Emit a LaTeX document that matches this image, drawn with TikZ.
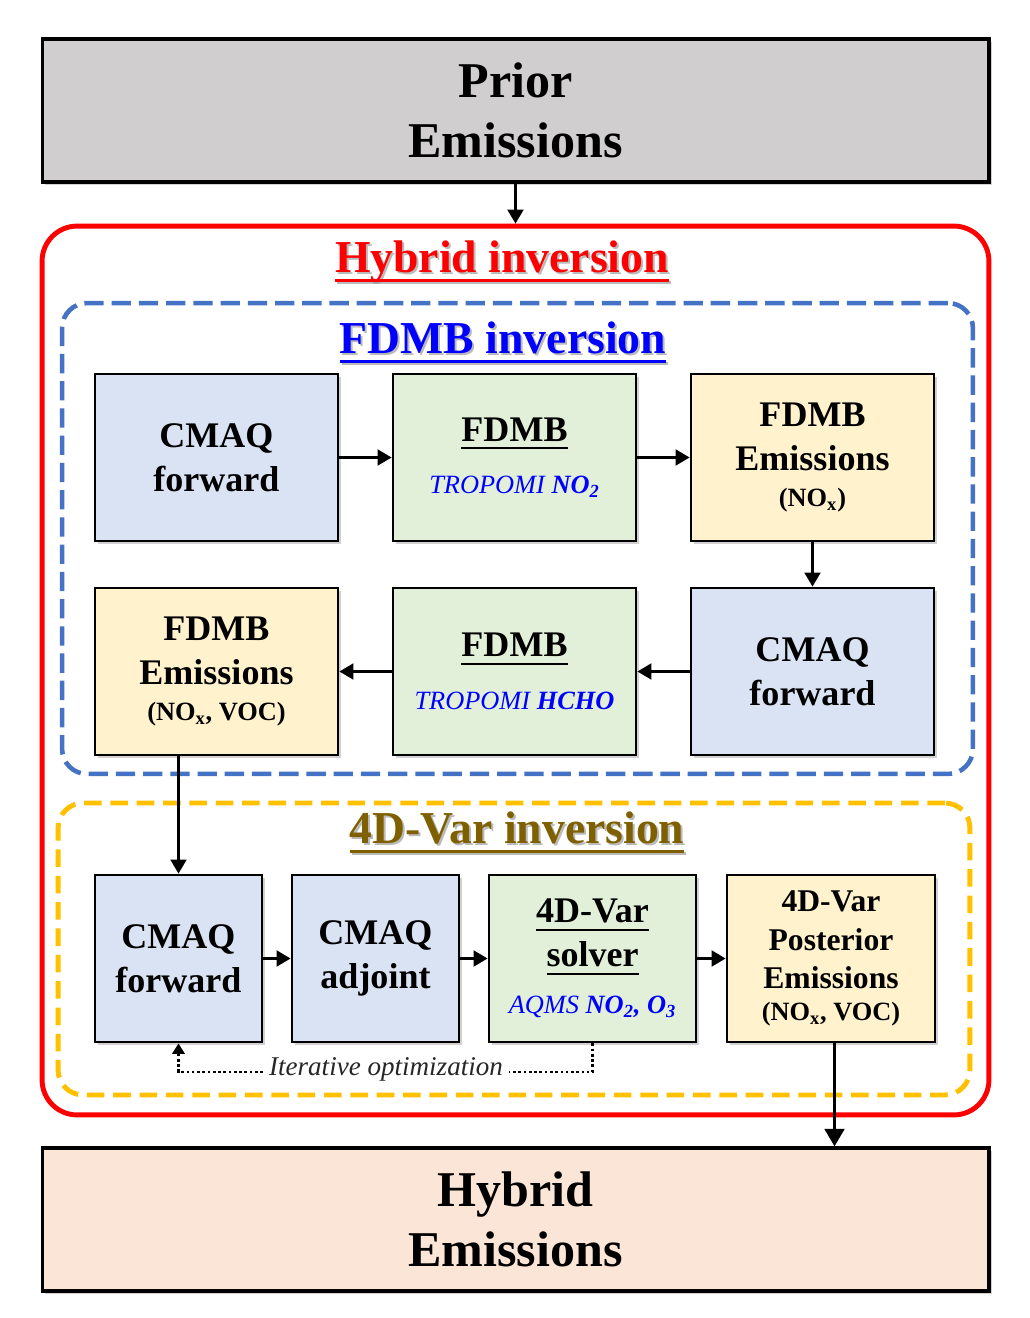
\documentclass[tikz,border=0pt]{standalone}
\usepackage{fontspec}
\setmainfont{Liberation Serif}
\usetikzlibrary{arrows.meta,shadows}
\definecolor{cgrey}{HTML}{D0CECE}
\definecolor{cpeach}{HTML}{FBE5D6}
\definecolor{cblue}{HTML}{DAE3F3}
\definecolor{cgreen}{HTML}{E2F0D9}
\definecolor{cyellow}{HTML}{FFF2CC}
\definecolor{dblue}{HTML}{4472C4}
\definecolor{dorange}{HTML}{FFC000}
\definecolor{hgold}{HTML}{7F6000}
\definecolor{tblue}{HTML}{0000FF}
% underline: #1 depth of top of rule below baseline, #2 thickness, #3 text
\newcommand\myul[3]{\setbox0\hbox{#3}\leavevmode\rlap{\vrule height -#1 depth \dimexpr#1+#2\relax width \wd0}\box0}
\newcommand\hul[1]{\myul{4pt}{1.6pt}{#1}}
\newcommand\bul[1]{\myul{3.5pt}{1.1pt}{#1}}
\newcommand\smalltxt{\fontsize{15}{18}\selectfont}
\begin{document}
\begin{tikzpicture}[x=0.02cm,y=-0.02cm,
  shad/.style={drop shadow={shadow xshift=1.5pt,shadow yshift=-1.5pt,opacity=0.3,fill=black!60}},
  bigbox/.style={draw=black,line width=1.8pt,minimum width=18.94cm,minimum height=2.86cm,
    align=center,font=\fontsize{28.5}{34}\selectfont\bfseries,shad},
  box/.style={draw=black,line width=1.6pt,minimum height=3.34cm,
    align=center,font=\fontsize{20.5}{25}\selectfont\bfseries,inner sep=1pt,shad},
  arr/.style={line width=1.5pt,-{Triangle[length=8pt,width=9pt]}},
  hdr/.style={anchor=base,font=\fontsize{26}{30}\selectfont\bfseries},
  hdrsh/.style={hdr,text=black!45,opacity=0.6},
  lbl/.style={font=\fontsize{15.4}{18}\selectfont\itshape,text=black!85},
  dots/.style={line width=1.5pt,dash pattern=on 1.5pt off 1.5pt}
]
\useasboundingbox (0,0) rectangle (1030,1318);

% outer frames
\node[draw=red,line width=2.8pt,rounded corners=0.7cm,minimum width=18.94cm,minimum height=17.78cm] (hyb) at (515.5,670.5) {};
\node[draw=dblue,line width=2.6pt,dash pattern=on 11pt off 4.5pt,rounded corners=0.5cm,minimum width=18.22cm,minimum height=9.42cm] (fdmbframe) at (517.5,538.5) {};
\node[draw=dorange,line width=2.8pt,dash pattern=on 10pt off 5pt,rounded corners=0.5cm,minimum width=18.24cm,minimum height=5.84cm] (varframe) at (514,949) {};

% headers
\node[hdrsh] at (504,274) {\hul{Hybrid inversion}};
\node[hdr,text=red] (h1) at (502,272) {\hul{Hybrid inversion}};
\node[hdrsh] at (505,355) {\hul{FDMB inversion}};
\node[hdr,text=tblue] (h2) at (503,353) {\hul{FDMB inversion}};
\node[hdrsh] at (519,845) {\hul{4D-Var inversion}};
\node[hdr,text=hgold] (h3) at (517,843) {\hul{4D-Var inversion}};

% top and bottom
\node[bigbox,fill=cgrey] (prior) at (515.5,110.5) {Prior\\Emissions};
\node[bigbox,fill=cpeach] (hybem) at (515.5,1219.5) {Hybrid\\Emissions};

% FDMB row 1
\node[box,fill=cblue,minimum width=4.86cm] (b1) at (216.5,457.5) {CMAQ\\forward};
\node[box,fill=cgreen,minimum width=4.86cm] (b2) at (514.5,457.5) {\bul{FDMB}\\[5pt]{\smalltxt\color{tblue}{\mdseries\itshape TROPOMI} {\bfseries\itshape NO\textsubscript{2}}}};
\node[box,fill=cyellow,minimum width=4.86cm] (b3) at (812.5,457.5) {FDMB\\Emissions\\[-4pt]{\smalltxt(NO\textsubscript{x})}};
% FDMB row 2
\node[box,fill=cyellow,minimum width=4.86cm] (b4) at (216.5,671.5) {FDMB\\Emissions\\[-4pt]{\smalltxt(NO\textsubscript{x}, VOC)}};
\node[box,fill=cgreen,minimum width=4.86cm] (b5) at (514.5,671.5) {\bul{FDMB}\\[5pt]{\smalltxt\color{tblue}{\mdseries\itshape TROPOMI} {\bfseries\itshape HCHO}}};
\node[box,fill=cblue,minimum width=4.86cm] (b6) at (812.5,671.5) {CMAQ\\forward};
% 4D-Var row
\node[box,fill=cblue,minimum width=3.34cm] (b7) at (178.5,958.5) {CMAQ\\forward};
\node[box,fill=cblue,minimum width=3.34cm] (b8) at (375.5,958.5) {CMAQ\\adjoint};
\node[box,fill=cgreen,minimum width=4.14cm] (b9) at (592.5,958.5) {\bul{4D-Var}\\\bul{solver}\\[2pt]{\smalltxt\color{tblue}{\mdseries\itshape AQMS} {\bfseries\itshape NO\textsubscript{2}, O\textsubscript{3}}}};
\node[box,fill=cyellow,minimum width=4.16cm,font=\fontsize{18}{22}\selectfont\bfseries] (b10) at (831,958.5) {4D-Var\\Posterior\\Emissions\\[-4pt]{\smalltxt(NO\textsubscript{x}, VOC)}};

% connectors
\draw[arr] (prior.south) -- (prior.south |- hyb.north);
\draw[arr] (b1) -- (b2);
\draw[arr] (b2) -- (b3);
\draw[arr] (b3) -- (b6);
\draw[arr] (b6) -- (b5);
\draw[arr] (b5) -- (b4);
\draw[arr] (b7.north |- b4.south) -- (b7.north);
\draw[arr] (b7) -- (b8);
\draw[arr] (b8) -- (b9);
\draw[arr] (b9) -- (b10);
\draw[line width=2.2pt,-{Triangle[length=10pt,width=11pt]}] ([xshift=2pt]b10.south) -- ([xshift=2pt]b10.south |- hybem.north);

% iterative optimization
\node[lbl] (it) at (386,1069) {Iterative optimization};
\coordinate (c1) at (592.5,1072);
\coordinate (c2) at (178.5,1072);
\draw[dots] (b9.south) -- (c1) -- (c1 -| it.east);
\draw[dots,-{Triangle[length=6pt,width=7pt]}] (c2 -| it.west) -- (c2) -- (b7.south);
\end{tikzpicture}
\end{document}
